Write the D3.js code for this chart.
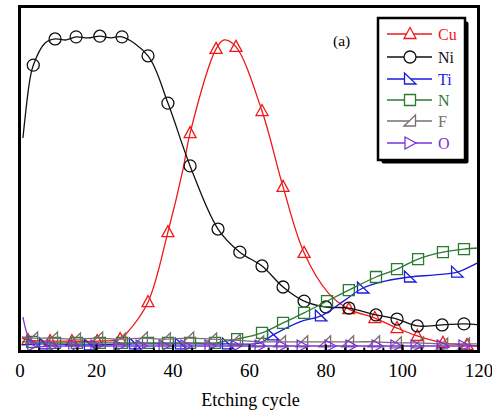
<!DOCTYPE html>
<html><head><meta charset="utf-8">
<script src="https://cdn.jsdelivr.net/npm/d3@7"></script>
<style>body{margin:0;background:#fff}svg{display:block}</style>
</head><body>
<svg id="c" width="492" height="413"></svg>
<script>
// ---- data (etching cycle vs. relative intensity, arbitrary units) ----
const seriesNames = ["Cu","Ni","Ti","N","F","O"];
const xTicks = [0,20,40,60,80,100,120];
const xLabel = "Etching cycle";
const panelLabel = "(a)";

const cuX = [0.65,2.2,8.0,13.7,20.3,26.3,28.1,33.6,38.8,42.7,44.6,51.4,53.5,56.6,63.4,68.9,74.4,80.7,86.1,92.9,98.7,104.0,110.7,117.0,120];
const cuY = [3.9,3.3,3.0,3.0,3.0,3.6,5.4,14.3,34.6,52.6,63.3,87.7,90.3,88.3,69.7,47.7,28.6,17.0,12.3,9.7,6.8,4.5,2.5,1.9,1.6];
const cuM = [0,1,1,1,1,1,0,1,1,0,1,1,0,1,1,1,1,0,1,1,1,1,1,1,0];

const niX = [0.9,2.7,3.6,6.7,9.3,12.2,14.8,17.9,21.0,23.9,26.8,33.6,38.8,44.6,51.9,57.6,63.4,68.9,74.4,80.1,86.1,93.2,98.7,104.0,110.5,116.2,120];
const niY = [61.9,78.7,83.0,89.4,90.6,90.3,91.2,90.9,91.4,90.9,91.2,85.7,72.0,53.8,35.5,28.8,24.8,18.7,14.6,12.9,12.6,10.6,9.4,7.4,7.7,8.0,7.7];
const niM = [0,0,1,0,1,0,1,0,1,0,1,1,1,1,1,1,1,1,1,1,1,1,1,1,1,1,0];

const tiX = [0.65,6.7,18.4,30.2,42.2,54.5,62.9,66.3,73.3,78.8,85.1,89.8,95.6,102.1,108.6,114.4,120];
const tiY = [1.9,2.2,1.9,2.2,2.2,2.2,2.5,4.8,8.6,10.3,14.9,18.4,20.4,21.6,22.2,23.0,25.9];
const tiM = [0,1,1,1,1,1,0,1,0,1,0,1,0,1,0,1,0];

const nX = [0.65,3.3,9.3,15.0,21.0,26.8,33.6,38.8,44.6,51.1,56.9,63.4,68.9,74.4,80.4,86.1,93.2,98.7,104.2,110.7,116.2,120];
const nY = [2.8,2.8,2.5,2.5,2.5,2.5,2.5,2.5,2.5,2.5,3.6,5.4,8.3,11.2,14.6,17.8,21.6,23.9,26.8,28.8,29.7,30.0];
const nM = [0,1,1,1,1,1,1,1,1,1,1,1,1,1,1,1,1,1,1,1,1,0];

const fX = [0.65,3.3,8.5,14.5,20.3,26.3,32.0,38.0,44.1,50.1,56.3,62.4,68.1,73.9,79.9,85.9,92.7,98.4,104.2,110.5,116.2,120];
const fY = [4.2,3.9,3.9,3.6,3.9,3.6,3.9,3.6,3.9,3.6,3.3,2.8,2.8,2.8,2.8,2.8,2.8,2.5,2.5,2.2,2.2,2.2];
const fM = [0,1,1,1,1,1,1,1,1,1,1,1,1,1,1,1,1,1,1,1,1,0];

const oX = [0.9,3.5,8.5,14.2,20.0,26.0,31.8,37.8,43.5,49.8,56.6,62.9,68.6,73.9,81.2,86.7,93.5,98.4,103.7,110.5,116.2,120];
const oY = [10.0,1.9,1.6,1.6,1.6,1.6,1.6,1.6,1.6,1.6,1.6,1.6,1.6,1.6,1.6,1.6,1.6,1.6,1.6,1.6,1.6,1.6];
const oM = [0,1,1,1,1,1,1,1,1,1,1,1,1,1,1,1,1,1,1,1,1,0];

// ---- styles ----
const colors = {Cu:"#f01818", Ni:"#111111", Ti:"#1a1ae0", N:"#2b7a33", F:"#7a6e6c", O:"#7b32d6"};
const shapes = {
  Cu:"M0,-6.5L6,4.5L-6,4.5Z",
  Ni:"M6,0A6,6 0 1 1 -6,0A6,6 0 1 1 6,0Z",
  Ti:"M-5.5,-6L-5.5,5L6,5Z",
  N:"M-5.5,-5.5H5.5V5.5H-5.5Z",
  F:"M-6,5L5.5,-6L5.5,5Z",
  O:"M-5,-6L6,0L-5,6Z"
};
const data = {
  Cu:[cuX,cuY,cuM], Ni:[niX,niY,niM], Ti:[tiX,tiY,tiM],
  N:[nX,nY,nM], F:[fX,fY,fM], O:[oX,oY,oM]
};

const svg = d3.select("#c");
const L=19.5, R=478.5, T=6.5, B=351.5;
const x = d3.scaleLinear().domain([0,120]).range([L,R]);
const y = d3.scaleLinear().domain([0,100]).range([B,T]);
const font = "'Liberation Serif','Times New Roman',serif";

svg.append("defs").append("clipPath").attr("id","clip")
  .append("rect").attr("x",L).attr("y",T).attr("width",R-L).attr("height",B-T);

const plot = svg.append("g").attr("clip-path","url(#clip)");
const line = d3.line().x(d=>x(d[0])).y(d=>y(d[1])).curve(d3.curveCatmullRom.alpha(0.5));

seriesNames.forEach(name=>{
  const [xs,ys,ms] = data[name];
  const pts = xs.map((v,i)=>[v,ys[i],ms[i]]);
  const g = plot.append("g");
  g.append("path").datum(pts).attr("d",line)
    .attr("fill","none").attr("stroke",colors[name]).attr("stroke-width",1.3);
  g.selectAll("path.m").data(pts.filter(p=>p[2])).join("path").attr("class","m")
    .attr("d",shapes[name])
    .attr("transform",p=>`translate(${x(p[0])},${y(p[1])})`)
    .attr("fill","none").attr("stroke",colors[name]).attr("stroke-width",1.3);
});

// minor/major ticks (inward)
const ax = svg.append("g").attr("transform",`translate(0,${B})`);
ax.call(d3.axisBottom(x).tickValues(d3.range(0,121,5)).tickSizeInner(-4).tickSizeOuter(0).tickFormat(""))
  .call(g=>g.select(".domain").remove())
  .call(g=>g.selectAll("line").attr("stroke","#000").attr("stroke-width",2));
const ax2 = svg.append("g").attr("transform",`translate(0,${B})`);
ax2.call(d3.axisBottom(x).tickValues(xTicks).tickSizeInner(-7).tickSizeOuter(0).tickPadding(12.5))
  .call(g=>g.select(".domain").remove())
  .call(g=>g.selectAll("line").attr("stroke","#000").attr("stroke-width",2))
  .call(g=>g.selectAll("text").attr("font-family",font).attr("font-size",19).attr("fill","#000"));

// frame
svg.append("rect").attr("x",L).attr("y",T).attr("width",R-L).attr("height",B-T)
  .attr("fill","none").attr("stroke","#000").attr("stroke-width",3);

// axis title
svg.append("text").attr("x",250.5).attr("y",406).attr("text-anchor","middle")
  .attr("font-family",font).attr("font-size",18).text(xLabel);

// panel label
svg.append("text").attr("x",333).attr("y",46)
  .attr("font-family",font).attr("font-size",15.5).text(panelLabel);

// legend
const lg = svg.append("g");
lg.append("rect").attr("x",381.5).attr("y",21.5).attr("width",87).attr("height",142).attr("rx",2).attr("fill","#000");
lg.append("rect").attr("x",378).attr("y",18).attr("width",87).attr("height",142).attr("fill","#fff")
  .attr("stroke","#000").attr("stroke-width",2.5);
const rowY = [34,57,79,100,121,143];
seriesNames.forEach((name,i)=>{
  const yy = rowY[i];
  lg.append("line").attr("x1",387).attr("x2",432).attr("y1",yy).attr("y2",yy)
    .attr("stroke",colors[name]).attr("stroke-width",1.3);
  lg.append("path").attr("d",shapes[name]).attr("transform",`translate(410,${yy})`)
    .attr("fill","#fff").attr("stroke",colors[name]).attr("stroke-width",1.3);
  lg.append("text").attr("x",438).attr("y",yy+5.5)
    .attr("font-family",font).attr("font-size",16).attr("fill",colors[name]).text(name);
});
</script>
</body></html>
